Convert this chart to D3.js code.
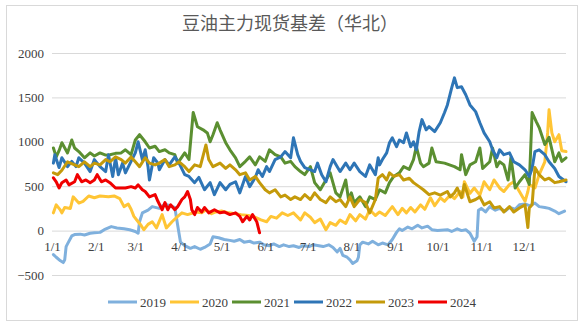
<!DOCTYPE html>
<html><head><meta charset="utf-8">
<script src="https://cdn.jsdelivr.net/npm/d3@7"></script>
<style>body{margin:0;background:#fff}svg{display:block}</style>
</head><body>
<svg id="c" width="581" height="325"></svg>
<script>
const title = "豆油主力现货基差（华北）";
const years = ["2019","2020","2021","2022","2023","2024"];
const colors = ["#7FB0DD","#FFC535","#5B8F31","#2E75B6","#C49A0A","#F00000"];
const yTicks = [-500,0,500,1000,1500,2000];
const xTickLabels = ["1/1","2/1","3/1","4/1","5/1","6/1","7/1","8/1","9/1","10/1","11/1","12/1"];

const s2019 = [["1/2",-270],["1/4",-300],["1/7",-340],["1/9",-360],["1/10",-330],["1/11",-180],["1/12",-150],["1/15",-60],["1/17",-45],["1/21",-40],["1/24",-50],["1/28",-30],["1/31",-25],["2/4",-20],["2/7",10],["2/12",45],["2/16",30],["2/21",20],["2/25",10],["3/1",-10],["3/3",-30],["3/4",100],["3/6",200],["3/10",230],["3/13",270],["3/18",250],["3/22",300],["3/25",280],["3/29",260],["3/31",60],["4/2",-130],["4/5",-170],["4/9",-200],["4/12",-180],["4/16",-210],["4/19",-190],["4/23",-150],["4/25",-70],["4/29",-80],["5/3",-100],["5/7",-110],["5/10",-120],["5/14",-100],["5/17",-130],["5/21",-120],["5/24",-140],["5/28",-130],["5/31",-160],["6/4",-170],["6/7",-150],["6/11",-180],["6/14",-160],["6/18",-180],["6/21",-170],["6/25",-190],["6/28",-170],["7/2",-180],["7/5",-160],["7/9",-170],["7/12",-180],["7/16",-160],["7/19",-190],["7/22",-240],["7/24",-200],["7/26",-280],["7/29",-300],["7/31",-330],["8/2",-370],["8/5",-340],["8/6",-300],["8/7",-160],["8/9",-130],["8/13",-150],["8/16",-120],["8/20",-160],["8/23",-140],["8/27",-160],["8/30",-100],["9/2",-20],["9/4",20],["9/6",0],["9/10",40],["9/13",20],["9/17",60],["9/20",30],["9/24",50],["9/27",10],["10/1",0],["10/8",10],["10/11",-10],["10/15",20],["10/18",0],["10/21",10],["10/24",-30],["10/27",-120],["10/29",-70],["10/30",230],["11/1",250],["11/4",210],["11/7",270],["11/11",230],["11/14",250],["11/18",220],["11/21",260],["11/25",240],["11/28",290],["12/2",300],["12/5",280],["12/9",310],["12/12",270],["12/16",260],["12/19",250],["12/23",220],["12/26",190],["12/30",220]];

const s2020 = [["1/2",200],["1/4",290],["1/7",230],["1/8",200],["1/10",260],["1/14",250],["1/16",380],["1/20",310],["1/23",330],["1/27",390],["1/31",370],["2/4",390],["2/10",380],["2/14",390],["2/18",360],["2/21",270],["2/24",300],["2/26",240],["2/28",160],["3/2",120],["3/5",60],["3/7",10],["3/10",70],["3/13",100],["3/16",30],["3/20",180],["3/23",30],["3/27",100],["3/30",145],["4/3",200],["4/7",180],["4/13",210],["4/17",200],["4/20",235],["4/24",190],["4/27",210],["5/1",220],["5/6",200],["5/11",190],["5/15",180],["5/20",170],["5/25",150],["5/29",120],["6/2",100],["6/5",160],["6/9",140],["6/13",200],["6/17",170],["6/21",200],["6/26",120],["6/29",200],["7/3",150],["7/6",90],["7/10",130],["7/14",10],["7/17",90],["7/21",60],["7/24",120],["7/28",80],["7/31",180],["8/4",110],["8/7",180],["8/11",130],["8/14",235],["8/18",170],["8/21",210],["8/25",170],["8/28",230],["8/30",270],["9/3",180],["9/6",250],["9/9",200],["9/12",260],["9/15",210],["9/19",290],["9/22",240],["9/26",370],["9/29",280],["10/3",370],["10/6",330],["10/10",400],["10/13",360],["10/17",440],["10/19",380],["10/20",550],["10/24",420],["10/27",480],["10/31",400],["11/3",550],["11/7",460],["11/10",570],["11/14",480],["11/17",440],["11/21",520],["11/24",550],["11/28",440],["12/2",330],["12/4",440],["12/5",520],["12/9",480],["12/12",630],["12/16",775],["12/18",1100],["12/19",1360],["12/21",1100],["12/23",1000],["12/26",1080],["12/28",900],["12/31",890]];

const s2021 = [["1/2",930],["1/4",830],["1/6",900],["1/8",990],["1/12",875],["1/15",1020],["1/17",930],["1/20",890],["1/24",820],["1/28",875],["1/31",840],["2/4",875],["2/8",850],["2/11",855],["2/15",870],["2/19",875],["2/22",910],["2/26",855],["3/1",1020],["3/4",1080],["3/8",1000],["3/11",930],["3/15",950],["3/18",890],["3/22",910],["3/25",875],["3/29",855],["3/31",760],["4/5",875],["4/8",800],["4/11",1330],["4/14",1170],["4/18",1135],["4/21",1100],["4/23",1000],["4/25",1080],["4/28",1215],["4/30",1135],["5/4",990],["5/7",910],["5/11",820],["5/14",720],["5/18",780],["5/21",830],["5/25",740],["5/28",830],["6/1",780],["6/4",910],["6/8",855],["6/12",830],["6/15",760],["6/19",780],["6/22",720],["6/26",665],["6/29",630],["7/3",720],["7/6",540],["7/10",460],["7/14",570],["7/17",650],["7/21",425],["7/24",380],["7/28",570],["7/30",350],["8/1",425],["8/3",315],["8/7",380],["8/11",270],["8/14",380],["8/18",350],["8/21",460],["8/25",425],["8/28",540],["8/31",610],["9/4",650],["9/7",720],["9/11",690],["9/14",800],["9/16",945],["9/19",760],["9/21",720],["9/25",760],["9/27",930],["9/30",775],["10/6",760],["10/13",720],["10/17",685],["10/18",855],["10/21",630],["10/24",740],["10/28",775],["10/31",930],["11/2",700],["11/7",775],["11/9",930],["11/12",720],["11/14",775],["11/17",740],["11/20",570],["11/22",820],["11/25",480],["11/28",550],["12/2",630],["12/5",520],["12/7",1330],["12/10",1225],["12/12",1160],["12/16",970],["12/19",1050],["12/23",775],["12/26",875],["12/28",780],["12/31",820]];

const s2022 = [["1/2",760],["1/3",855],["1/6",710],["1/8",820],["1/12",720],["1/15",780],["1/18",720],["1/20",820],["1/24",760],["1/28",665],["1/31",800],["2/4",720],["2/8",665],["2/10",855],["2/13",610],["2/15",820],["2/17",630],["2/20",760],["2/22",650],["2/26",780],["3/1",875],["3/3",1000],["3/6",800],["3/8",910],["3/10",720],["3/11",570],["3/14",820],["3/17",760],["3/18",685],["3/22",800],["3/25",740],["3/29",830],["4/1",760],["4/5",630],["4/8",610],["4/12",540],["4/15",600],["4/19",460],["4/23",540],["4/26",405],["4/30",540],["5/4",460],["5/7",520],["5/11",550],["5/14",425],["5/18",610],["5/21",495],["5/25",600],["5/27",685],["5/30",610],["6/2",720],["6/4",665],["6/8",800],["6/12",830],["6/15",890],["6/19",820],["6/21",1045],["6/24",855],["6/26",780],["6/29",710],["7/3",685],["7/6",665],["7/8",760],["7/11",630],["7/14",550],["7/17",720],["7/19",800],["7/22",720],["7/24",665],["7/28",760],["7/31",685],["8/3",760],["8/7",665],["8/11",610],["8/14",740],["8/18",630],["8/20",820],["8/21",740],["8/23",800],["8/26",875],["8/28",990],["8/30",1045],["9/2",945],["9/4",1020],["9/7",990],["9/9",1100],["9/12",945],["9/14",1000],["9/16",910],["9/18",1115],["9/20",1250],["9/23",1135],["9/25",1170],["9/29",1115],["10/3",1215],["10/6",1330],["10/8",1415],["10/11",1605],["10/13",1720],["10/15",1610],["10/18",1620],["10/21",1530],["10/24",1415],["10/28",1340],["10/31",1215],["11/3",1100],["11/7",1000],["11/9",910],["11/12",820],["11/14",910],["11/17",855],["11/21",875],["11/24",775],["11/28",740],["12/2",685],["12/5",610],["12/7",700],["12/9",890],["12/12",910],["12/16",855],["12/19",775],["12/23",700],["12/26",610],["12/31",550]];

const s2023 = [["1/2",650],["1/5",630],["1/8",680],["1/12",775],["1/17",740],["1/20",720],["1/24",775],["1/28",720],["1/31",760],["2/4",740],["2/8",800],["2/11",775],["2/15",830],["2/19",800],["2/22",760],["2/26",830],["3/1",775],["3/4",720],["3/8",820],["3/11",760],["3/15",740],["3/18",760],["3/22",800],["3/25",720],["3/29",740],["4/1",775],["4/5",720],["4/8",665],["4/12",740],["4/16",720],["4/20",965],["4/22",800],["4/25",720],["4/30",760],["5/4",700],["5/7",740],["5/11",685],["5/14",630],["5/18",650],["5/21",570],["5/25",610],["5/28",540],["6/1",460],["6/4",425],["6/8",460],["6/12",380],["6/15",400],["6/19",350],["6/22",380],["6/26",350],["6/29",405],["7/3",350],["7/6",425],["7/10",350],["7/14",315],["7/17",380],["7/21",325],["7/24",350],["7/28",270],["7/31",380],["8/3",270],["8/7",350],["8/11",315],["8/14",200],["8/18",350],["8/20",590],["8/23",630],["8/26",570],["8/28",650],["8/31",610],["9/4",630],["9/7",570],["9/11",590],["9/14",540],["9/18",495],["9/21",460],["9/25",405],["9/29",425],["10/3",400],["10/8",440],["10/10",380],["10/13",425],["10/15",480],["10/18",370],["10/20",520],["10/24",325],["10/28",350],["10/31",380],["11/3",290],["11/7",325],["11/10",255],["11/14",270],["11/17",210],["11/21",270],["11/24",210],["11/28",255],["12/2",290],["12/4",35],["12/5",255],["12/7",290],["12/9",710],["12/12",630],["12/16",570],["12/19",590],["12/23",540],["12/26",550],["12/31",570]];

const s2024 = [["1/2",595],["1/4",550],["1/6",480],["1/8",540],["1/11",570],["1/13",515],["1/17",550],["1/19",630],["1/22",550],["1/25",570],["1/28",540],["1/31",570],["2/2",630],["2/5",550],["2/8",570],["2/11",540],["2/15",480],["2/19",480],["2/22",480],["2/26",495],["3/1",480],["3/3",515],["3/6",460],["3/8",440],["3/11",380],["3/15",405],["3/17",330],["3/20",235],["3/22",315],["3/24",235],["3/26",290],["3/29",235],["3/31",270],["4/3",350],["4/5",380],["4/7",440],["4/9",350],["4/10",235],["4/12",180],["4/14",260],["4/17",210],["4/19",260],["4/22",200],["4/26",235],["4/30",200],["5/3",210],["5/7",180],["5/11",200],["5/14",160],["5/16",100],["5/19",160],["5/21",120],["5/23",180],["5/26",100],["5/28",-25]];

const seriesData = [s2019, s2020, s2021, s2022, s2023, s2024];

const parse = d3.timeParse("%m/%d");
const svg = d3.select("#c");

// outer border
svg.append("rect").attr("x",6.5).attr("y",5.5).attr("width",571).attr("height",315)
  .attr("fill","#fff").attr("stroke","#D9D9D9");

svg.append("text").attr("x",290).attr("y",30).attr("text-anchor","middle")
  .attr("font-family","'Noto Sans CJK SC', sans-serif").attr("font-size",18)
  .attr("fill","#595959").text(title);

const x = d3.scaleTime().domain([parse("1/1"), parse("12/31")]).range([52, 566]);
const y = d3.scaleLinear().domain([-500, 2000]).range([275, 53]);

const serif = "'Liberation Serif','Times New Roman',serif";

const gy = svg.append("g").attr("transform","translate(52,0)")
  .call(d3.axisLeft(y).tickValues(yTicks).tickSize(-(566-52)).tickPadding(8).tickFormat(d3.format("d")));
gy.select(".domain").remove();
gy.selectAll("line").attr("stroke","#D9D9D9");
gy.selectAll("text").attr("font-family",serif).attr("font-size",13).attr("fill","#404040");

const line = d3.line().x(d => x(parse(d[0]))).y(d => y(d[1]));
seriesData.forEach((s,i) => {
  svg.append("path").datum(s).attr("d",line).attr("fill","none")
    .attr("stroke",colors[i]).attr("stroke-width",3)
    .attr("stroke-linejoin","round").attr("stroke-linecap","round");
});

const gx = svg.append("g").attr("transform",`translate(0,${y(0)})`)
  .call(d3.axisBottom(x).tickValues(xTickLabels.map(parse)).tickSize(0).tickPadding(11).tickFormat(d3.timeFormat("%-m/%-d")));
gx.select(".domain").remove();
gx.selectAll("text").attr("font-family",serif).attr("font-size",13).attr("fill","#404040");

// legend
const lg = svg.append("g").attr("transform","translate(108,302)");
years.forEach((yr,i) => {
  const g = lg.append("g").attr("transform",`translate(${i*62},0)`);
  g.append("line").attr("x1",0).attr("x2",29).attr("y1",0).attr("y2",0)
    .attr("stroke",colors[i]).attr("stroke-width",3);
  g.append("text").attr("x",32).attr("y",4.5).attr("font-family",serif).attr("font-size",13)
    .attr("fill","#404040").text(yr);
});
</script>
</body></html>
